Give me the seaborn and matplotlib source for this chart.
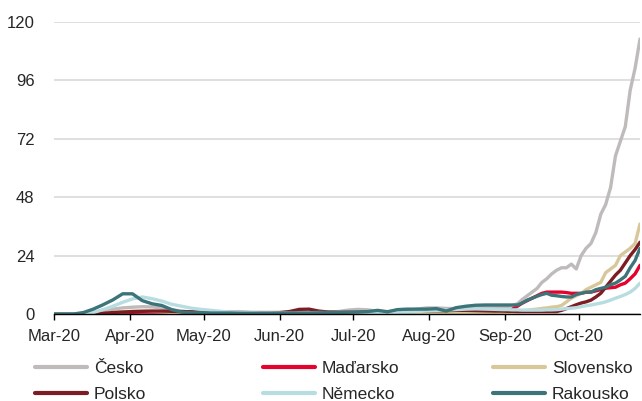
import pandas as pd
import matplotlib.pyplot as plt
import matplotlib.dates as mdates
from matplotlib.lines import Line2D
import seaborn as sns

# data: every 4 days Mar 1 - Aug 28, then every 2 days Aug 31 - Oct 26
dates = pd.date_range("2020-03-01", periods=46, freq="4D").append(
    pd.date_range("2020-08-31", "2020-10-26", freq="2D"))

cesko = [0, 0, 0, 0.2, 0.6, 1.2, 2.0, 2.5, 2.8, 3.0, 2.9, 2.5, 1.8, 1.2, 0.8, 0.6,
         0.5, 0.5, 0.4, 0.4, 0.4, 0.4, 0.5, 0.5, 0.6, 0.6, 0.7, 0.8, 0.9, 1.0, 1.6, 1.9,
         1.7, 1.1, 1.0, 1.2, 1.4, 2.0, 2.5, 2.5, 2.3, 2.2, 2.3, 2.5, 2.6, 2.8,
         2.8, 3.0, 3.5, 4.2, 6.0, 7.5, 9.0, 10.5, 13.0, 14.5, 16.5, 18.0, 19.0, 19.0, 20.5,
         18.5, 24.0, 27.0, 29.0, 33.5, 41.0, 45.0, 52.0, 65.0, 71.0, 77.0, 92.0, 101.0, 113.0]
madarsko = [0, 0, 0, 0, 0.1, 0.3, 0.5, 0.6, 0.7, 0.8, 0.8, 0.8, 0.7, 0.6, 0.5, 0.4,
            0.3, 0.3, 0.3, 0.2, 0.2, 0.2, 0.2, 0.1, 0.1, 0.1, 0.1, 0.1, 0.1, 0.1, 0.1, 0.1,
            0.1, 0.1, 0.1, 0.1, 0.1, 0.1, 0.1, 0.2, 0.2, 0.2, 0.3, 0.3, 0.3, 0.4,
            0.5, 1.0, 2.0, 3.2, 4.5, 5.5, 6.5, 7.5, 8.5, 9.0, 9.0, 9.0, 9.0, 8.8, 8.5,
            8.5, 8.5, 9.0, 9.0, 9.5, 10.0, 10.6, 10.8, 11.0, 12.0, 12.7, 14.5, 16.5, 20.0]
slovensko = [0, 0, 0, 0, 0, 0.2, 0.6, 0.9, 1.1, 1.2, 1.1, 0.9, 0.6, 0.4, 0.3, 0.2,
             0.1, 0.1, 0.1, 0.1, 0.1, 0.1, 0.1, 0.1, 0.1, 0.1, 0.1, 0.1, 0.1, 0.1, 0.1, 0.1,
             0.1, 0.1, 0.1, 0.1, 0.1, 0.1, 0.2, 0.2, 0.2, 0.3, 0.3, 0.4, 0.4, 0.5,
             0.5, 0.6, 0.8, 1.0, 1.2, 1.5, 1.8, 2.0, 2.3, 2.5, 2.8, 3.0, 3.5, 5.0, 6.5,
             7.5, 8.5, 10.0, 11.0, 12.0, 13.0, 17.0, 18.5, 20.0, 24.0, 25.5, 27.0, 29.0, 37.0]
polsko = [0, 0, 0, 0, 0, 0.2, 0.6, 0.8, 1.0, 1.1, 1.2, 1.2, 1.1, 1.0, 0.9, 0.8,
          0.8, 0.7, 0.7, 0.7, 0.6, 0.6, 0.6, 0.6, 1.0, 1.9, 2.0, 1.2, 0.8, 0.7, 0.7, 0.7,
          0.8, 0.8, 0.9, 0.9, 1.0, 1.1, 1.2, 1.3, 1.4, 1.5, 1.5, 1.4, 1.3, 1.2,
          1.2, 1.1, 1.1, 1.0, 1.0, 1.0, 1.0, 1.0, 1.0, 1.0, 1.0, 1.0, 1.5, 2.2, 3.0,
          3.8, 4.5, 5.0, 5.7, 7.0, 8.5, 11.0, 13.5, 16.0, 18.0, 21.0, 24.0, 26.5, 29.5]
nemecko = [0, 0, 0, 0.2, 0.6, 1.8, 3.2, 4.8, 6.2, 7.0, 6.3, 5.3, 4.0, 3.2, 2.4, 1.9,
           1.5, 1.1, 0.8, 0.7, 0.6, 0.5, 0.5, 0.4, 0.4, 0.4, 0.5, 0.6, 0.6, 0.5, 0.5, 0.5,
           0.5, 0.6, 0.6, 0.7, 0.8, 1.0, 1.2, 1.4, 1.6, 1.8, 2.0, 2.1, 2.0, 1.9,
           1.8, 1.8, 1.7, 1.7, 1.6, 1.6, 1.6, 1.6, 1.6, 1.7, 1.7, 1.8, 2.0, 2.2, 2.4,
           2.6, 3.0, 3.4, 3.7, 4.1, 4.5, 5.0, 5.7, 6.5, 7.2, 8.0, 9.0, 10.5, 12.7]
rakousko = [0, 0, 0, 0.6, 2.0, 3.8, 5.8, 8.3, 8.3, 5.5, 4.2, 3.5, 1.8, 0.8, 0.5, 0.5,
            0.4, 0.4, 0.4, 0.3, 0.3, 0.3, 0.3, 0.3, 0.4, 0.4, 0.4, 0.5, 0.6, 0.6, 0.7, 0.8,
            1.0, 1.5, 0.9, 1.8, 2.0, 2.0, 2.0, 2.2, 1.2, 2.6, 3.2, 3.6, 3.7, 3.7,
            3.7, 3.7, 3.7, 3.7, 4.5, 5.7, 6.5, 7.3, 8.0, 8.5, 7.7, 7.5, 7.2, 7.0, 7.0,
            8.0, 8.5, 9.0, 9.0, 10.0, 10.5, 11.0, 12.0, 12.7, 14.0, 15.5, 19.0, 22.0, 27.0]

countries = ["Česko", "Maďarsko", "Slovensko", "Polsko", "Německo", "Rakousko"]
colors = ["#BFBBBB", "#E4032E", "#D8C79A", "#7C1D24", "#B7DDE0", "#3C7479"]

df = pd.DataFrame({"datum": dates, "Česko": cesko, "Maďarsko": madarsko,
                   "Slovensko": slovensko, "Polsko": polsko, "Německo": nemecko,
                   "Rakousko": rakousko})
df = df.melt(id_vars="datum", var_name="zeme", value_name="hodnota")

sns.set_style("white")
plt.rcParams["font.family"] = ["Liberation Sans", "DejaVu Sans"]
plt.rcParams["font.size"] = 12

fig = plt.figure(figsize=(6.42, 4.01), dpi=100)
ax = fig.add_axes([54 / 642, 1 - 314 / 401, 586 / 642, 292 / 401])

sns.lineplot(data=df, x="datum", y="hodnota", hue="zeme", hue_order=countries,
             palette=colors, linewidth=2.4, legend=False, ax=ax)

ax.set_xlim(pd.Timestamp("2020-03-01"), pd.Timestamp("2020-10-26"))
ax.set_ylim(0, 120)
ax.set_yticks(range(0, 121, 24))
ax.xaxis.set_major_locator(mdates.MonthLocator())
ax.xaxis.set_major_formatter(mdates.DateFormatter("%b-%y"))
ax.set_xlabel("")
ax.set_ylabel("")

ax.grid(axis="y", color="#D9D9D9", linewidth=1.2)
ax.grid(axis="x", visible=False)
for s in ["top", "right", "left"]:
    ax.spines[s].set_visible(False)
ax.spines["bottom"].set_color("black")
ax.spines["bottom"].set_linewidth(1)
ax.spines["bottom"].set_zorder(5)
ax.tick_params(axis="x", length=4, width=1, color="black", direction="out", pad=7,
               labelsize=12, bottom=True)
ax.tick_params(axis="y", length=0, pad=14, labelsize=12)

# legend: three columns placed at fixed positions, like the original
handles = [Line2D([0], [0], color=c, linewidth=3) for c in colors]
col_x = [35, 263, 493]
for i, x in enumerate(col_x):
    idx = [i, i + 3]
    fig.legend([handles[j] for j in idx], [countries[j] for j in idx],
               loc="upper left", bbox_to_anchor=(x / 642, 1 - 361 / 401),
               frameon=False, borderpad=0, borderaxespad=0, handlelength=3.0,
               handletextpad=0.4, labelspacing=0.6, fontsize=12.5)

fig.savefig("out.png", dpi=100)
